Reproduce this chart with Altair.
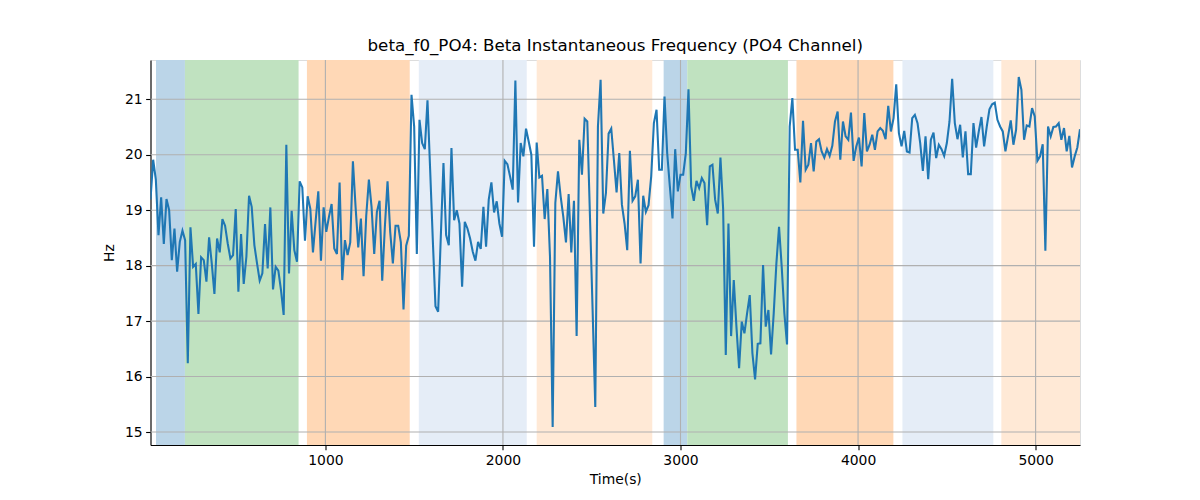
import altair as alt
import pandas as pd

title_text = "beta_f0_PO4: Beta Instantaneous Frequency (PO4 Channel)"

# sampling grid of the signal (seconds)
t_start = 15
t_step = 15

freq_a = [19.19, 19.91, 19.55, 18.55, 19.23, 18.39, 19.20, 19.00, 18.10, 18.67,
          17.89, 18.43, 18.63, 18.46, 16.24, 18.69, 17.98, 18.03, 17.13, 18.15,
          18.10, 17.71, 18.51, 18.04, 17.49, 18.49, 18.24, 18.84, 18.72, 18.40,
          18.13, 18.19, 19.02, 17.53, 18.57, 17.67, 18.16, 19.26, 19.06, 18.37,
          18.04, 17.73, 17.86, 18.75, 17.95, 19.05, 17.57, 17.98, 17.91, 17.56,
          17.11, 20.18, 17.86, 18.99, 18.28, 18.07, 19.52, 19.41, 18.45, 19.25,
          19.03]
freq_b = [18.24, 18.80, 19.34, 18.09, 19.05, 18.61, 18.88, 19.11, 18.31,
          18.21, 19.50, 17.74, 18.46, 18.19, 18.42, 19.88, 19.06, 18.33, 18.85,
          17.81, 18.90, 19.55, 19.06, 18.21, 18.97, 19.17, 17.73, 18.70, 19.52,
          18.61, 18.04, 18.72, 18.72, 18.42, 17.21, 18.36, 18.54, 21.08, 20.51,
          18.21, 20.63, 20.21, 20.10, 20.98, 19.73, 18.46, 17.27, 17.17, 18.52,
          19.85, 18.55, 18.37, 20.12, 18.82, 19.00, 18.76, 17.62, 18.79, 18.67,
          18.49]
freq_c = [18.25, 18.09, 18.43, 18.30, 19.06, 18.34, 19.19, 19.50, 18.96,
          19.16, 18.76, 18.52, 19.89, 19.83, 19.61, 19.37, 21.34, 19.14, 20.21,
          19.97, 20.47, 20.24, 20.00, 18.34, 20.22, 19.59, 19.62, 18.84, 19.38,
          18.16, 15.09, 19.13, 19.70, 19.25, 18.88, 18.42, 19.29, 18.24, 19.17,
          16.73, 20.27, 19.64, 20.65, 20.60, 18.90, 17.20, 15.45, 20.51, 21.35,
          18.94, 19.31, 20.38, 20.47, 19.90, 19.32, 20.03, 19.10, 18.76, 18.28,
          20.07]
freq_d = [19.17, 19.25, 19.55, 18.04, 19.26, 18.97, 19.09, 19.61, 20.57,
          20.81, 19.73, 19.73, 21.05, 20.03, 19.43, 18.85, 20.10, 19.34, 19.64,
          19.64, 20.03, 21.18, 19.43, 19.17, 19.53, 19.40, 19.58, 19.49, 18.73,
          19.79, 19.82, 19.19, 18.94, 19.95, 19.03, 16.39, 18.76, 16.73, 17.74,
          16.90, 16.15, 16.99, 16.78, 17.14, 17.47, 16.42, 15.95, 16.59, 16.60,
          18.01, 16.90, 17.20, 16.40, 17.14, 18.04, 18.70, 17.98, 17.14, 16.58,
          20.51]
freq_e = [21.02, 20.09, 20.09, 19.50, 20.61, 19.73, 19.82, 20.21, 19.70,
          20.24, 20.28, 20.06, 19.95, 20.10, 19.98, 20.16, 20.60, 20.78, 19.91,
          20.60, 20.33, 20.27, 20.76, 19.89, 20.15, 20.31, 19.79, 20.75, 20.06,
          20.18, 20.36, 20.09, 20.42, 20.48, 20.43, 20.28, 20.88, 20.42, 20.66,
          21.27, 20.39, 20.15, 20.43, 20.06, 20.04, 20.66, 20.72, 20.57, 20.21,
          19.71, 20.33, 19.56, 20.27, 20.40, 19.94, 20.18, 20.10, 19.98, 20.21,
          20.60]
freq_f = [21.37, 20.57, 20.28, 20.54, 19.95, 20.42, 19.65, 19.65, 20.57,
          20.13, 20.42, 20.68, 20.15, 20.51, 20.82, 20.91, 20.94, 20.63, 20.51,
          20.42, 20.06, 20.34, 20.62, 20.18, 20.45, 21.40, 21.17, 20.27, 20.53,
          20.51, 20.84, 20.69, 19.89, 19.97, 20.19, 18.27, 20.51, 20.33, 20.50,
          20.51, 20.57, 20.27, 20.48, 20.06, 20.34, 19.77, 19.97, 20.13, 20.46]

freq_hz = freq_a + freq_b + freq_c + freq_d + freq_e + freq_f
time_s = [t_start + t_step * i for i in range(len(freq_hz))]

span_start = [46, 209, 896, 1526, 2190, 2905, 3038, 3653, 4250, 4807]
span_end = [209, 849, 1475, 2134, 2841, 3038, 3605, 4199, 4762, 5250]
span_kind = ["blue", "green", "orange", "lightblue", "lightorange",
             "blue", "green", "orange", "lightblue", "lightorange"]
kind_names = ["blue", "green", "orange", "lightblue", "lightorange"]
kind_colors = ["#bbd5e8", "#c0e2c0", "#ffd8b6", "#e5edf7", "#ffe9d6"]

x_ticks = [1000, 2000, 3000, 4000, 5000]
y_ticks = [15, 16, 17, 18, 19, 20, 21]
x_domain = [15, 5250]
y_domain = [14.766, 21.708]

FONT = "DejaVu Sans"
W, H = 929.5, 385

line_df = pd.DataFrame({"t": time_s, "f": freq_hz})
span_df = pd.DataFrame({"x1": span_start, "x2": span_end, "kind": span_kind})
xg_df = pd.DataFrame({"x": x_ticks})
yg_df = pd.DataFrame({"y": y_ticks})

xscale = alt.Scale(domain=x_domain, nice=False, zero=False)
yscale = alt.Scale(domain=y_domain, nice=False, zero=False)

xaxis = alt.Axis(values=x_ticks, title="Time(s)", grid=False, format="d",
                 labelFont=FONT, labelFontSize=13.9, labelColor="black",
                 titleFont=FONT, titleFontSize=13.9, titleFontWeight="normal",
                 titleColor="black", tickSize=4.86, tickColor="black",
                 tickWidth=1.1, domainColor="black", domainWidth=1.1,
                 labelPadding=3.5, titlePadding=5)
yaxis = alt.Axis(values=y_ticks, title="Hz", grid=False, format="d",
                 labelFont=FONT, labelFontSize=13.9, labelColor="black",
                 titleFont=FONT, titleFontSize=13.9, titleFontWeight="normal",
                 titleColor="black", tickSize=4.86, tickColor="black",
                 tickWidth=1.1, domainColor="black", domainWidth=1.1,
                 labelPadding=3.5, titlePadding=8)

spans = alt.Chart(span_df).mark_rect(clip=True).encode(
    x=alt.X("x1:Q", scale=xscale, axis=xaxis),
    x2="x2:Q",
    y=alt.value(0),
    y2=alt.value(H),
    color=alt.Color("kind:N", scale=alt.Scale(domain=kind_names, range=kind_colors), legend=None),
)

xgrid = alt.Chart(xg_df).mark_rule(color="#b0b0b0", strokeWidth=1.1).encode(
    x=alt.X("x:Q", scale=xscale), y=alt.value(0), y2=alt.value(H)
)
ygrid = alt.Chart(yg_df).mark_rule(color="#b0b0b0", strokeWidth=1.1).encode(
    y=alt.Y("y:Q", scale=yscale, axis=yaxis), x=alt.value(0), x2=alt.value(W)
)

line = alt.Chart(line_df).mark_line(color="#1f77b4", strokeWidth=2.08, clip=True).encode(
    x=alt.X("t:Q", scale=xscale),
    y=alt.Y("f:Q", scale=yscale),
)

chart = alt.layer(spans, xgrid, ygrid, line).properties(
    width=W, height=H,
    title=alt.Title(title_text, font=FONT, fontSize=16.7, fontWeight="normal",
                    color="black", anchor="middle", baseline="alphabetic", offset=-8),
    autosize=alt.AutoSizeParams(type="none"),
    padding={"left": 142.5, "top": 52, "right": 100, "bottom": 45},
).configure_view(stroke="black", strokeWidth=1.1).configure(background="white")

chart.save("out.html", embed_options={"renderer": "svg", "actions": False})
